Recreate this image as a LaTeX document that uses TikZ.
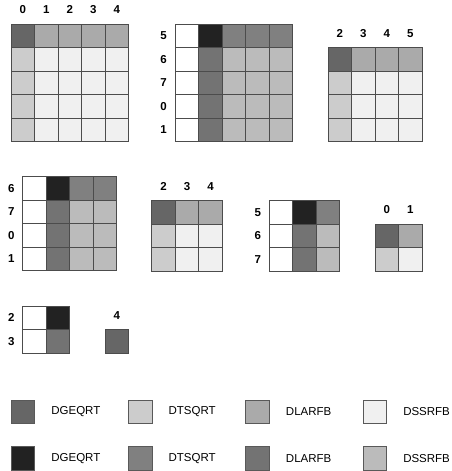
\documentclass[tikz,border=0pt]{standalone}
\usepackage{fontspec}
\setmainfont{Liberation Sans}
\usepackage{tikz}
\usetikzlibrary{positioning}

\definecolor{geqrtA}{gray}{0.40}
\definecolor{tsqrtA}{gray}{0.80}
\definecolor{larfbA}{gray}{0.667}
\definecolor{ssrfbA}{gray}{0.94}
\definecolor{geqrtB}{gray}{0.135}
\definecolor{tsqrtB}{gray}{0.50}
\definecolor{larfbB}{gray}{0.45}
\definecolor{ssrfbB}{gray}{0.735}

\tikzstyle{cell} = [draw=black!70, line width=0.8pt, minimum size=23.5pt, inner sep=0, outer sep=0]
\tikzstyle{lbl} = [font=\fontsize{11.5}{14}\selectfont\bfseries, inner sep=0]
\tikzstyle{key} = [draw=black!65, line width=0.8pt, minimum size=23.5pt, inner sep=0]
\tikzstyle{keytext} = [font=\fontsize{11.5}{14}\selectfont, inner sep=0, anchor=west]

% first kind: diagonal tile in the corner
\newcommand{\tilesA}[4]{%
  \foreach \i in {1,...,#3} {
    \foreach \j in {1,...,#3} {
      \ifnum\i=1 \ifnum\j=1 \def\fc{geqrtA}\else \def\fc{larfbA}\fi
      \else \ifnum\j=1 \def\fc{tsqrtA}\else \def\fc{ssrfbA}\fi\fi
      \node[cell, fill=\fc] (#4-\i-\j) at (#1+\j*23.5-11.75, #2+\i*23.5-11.75) {};
    }
  }
}
% second kind: blank first column
\newcommand{\tilesB}[4]{%
  \foreach \i in {1,...,#3} {
    \foreach \j in {1,...,#3} {
      \ifnum\j=1 \def\fc{white}\else
        \ifnum\i=1 \ifnum\j=2 \def\fc{geqrtB}\else \def\fc{tsqrtB}\fi
        \else \ifnum\j=2 \def\fc{larfbB}\else \def\fc{ssrfbB}\fi\fi
      \fi
      \node[cell, fill=\fc] (#4-\i-\j) at (#1+\j*23.5-11.75, #2+\i*23.5-11.75) {};
    }
  }
}

\begin{document}
\begin{tikzpicture}[x=1pt, y=-1pt]
\useasboundingbox (0,0) rectangle (452,471);

% step 1
\tilesA{11}{24}{5}{a}
\foreach \l [count=\k] in {0,1,2,3,4}
  \node[lbl, above=10pt of a-1-\k] (ca\k) {\l};

\tilesB{175}{24}{5}{b}
\foreach \l [count=\k] in {5,6,7,0,1}
  \node[lbl, left=8pt of b-\k-1] (rb\k) {\l};

\tilesA{328}{47.7}{4}{c}
\foreach \l [count=\k] in {2,3,4,5}
  \node[lbl, above=10pt of c-1-\k] (cc\k) {\l};

% step 2
\tilesB{22.7}{176.7}{4}{d}
\foreach \l [count=\k] in {6,7,0,1}
  \node[lbl, left=8pt of d-\k-1] (rd\k) {\l};

\tilesA{151.7}{200.7}{3}{e}
\foreach \l [count=\k] in {2,3,4}
  \node[lbl, above=10pt of e-1-\k] (ce\k) {\l};

\tilesB{269.3}{200.7}{3}{f}
\foreach \l [count=\k] in {5,6,7}
  \node[lbl, left=8pt of f-\k-1] (rf\k) {\l};

\tilesA{375}{224}{2}{g}
\foreach \l [count=\k] in {0,1}
  \node[lbl, above=10pt of g-1-\k] (cg\k) {\l};

% step 3
\tilesB{22.7}{306}{2}{h}
\foreach \l [count=\k] in {2,3}
  \node[lbl, left=8pt of h-\k-1] (rh\k) {\l};

\tilesA{105}{329.7}{1}{i}
\node[lbl, above=10pt of i-1-1] (ci1) {4};

% legend
\node[key, fill=geqrtA] (k1) at (23,412) {};
\node[key, fill=tsqrtA] (k2) at (140.3,412) {};
\node[key, fill=larfbA] (k3) at (257.6,412) {};
\node[key, fill=ssrfbA] (k4) at (374.9,412) {};
\node[key, fill=geqrtB] (k5) at (23,458.5) {};
\node[key, fill=tsqrtB] (k6) at (140.3,458.5) {};
\node[key, fill=larfbB] (k7) at (257.6,458.5) {};
\node[key, fill=ssrfbB] (k8) at (374.9,458.5) {};

\node[keytext, right=16pt of k1] (t1) {DGEQRT};
\node[keytext, right=16pt of k2] (t2) {DTSQRT};
\node[keytext, right=16pt of k3] (t3) {DLARFB};
\node[keytext, right=16pt of k4] (t4) {DSSRFB};
\node[keytext, right=16pt of k5] (t5) {DGEQRT};
\node[keytext, right=16pt of k6] (t6) {DTSQRT};
\node[keytext, right=16pt of k7] (t7) {DLARFB};
\node[keytext, right=16pt of k8] (t8) {DSSRFB};
\end{tikzpicture}
\end{document}
